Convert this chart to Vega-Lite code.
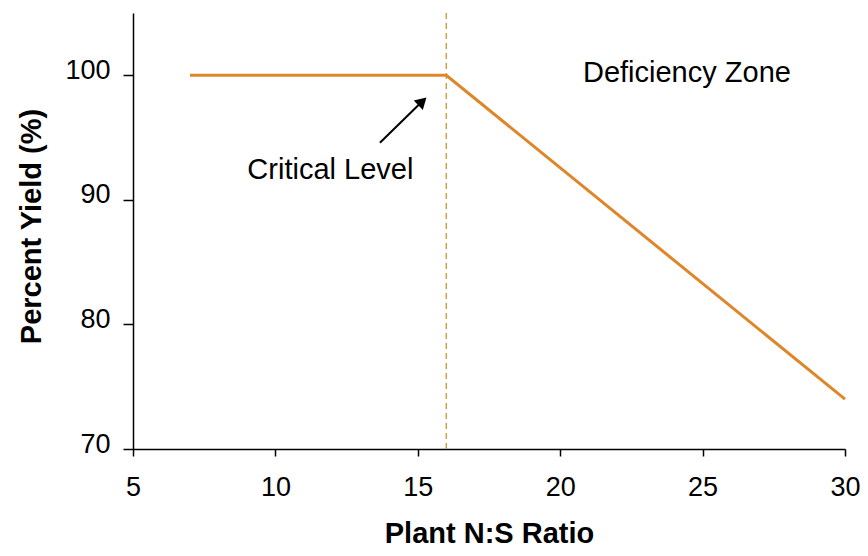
{
  "$schema": "https://vega.github.io/schema/vega-lite/v6.json",
  "autosize": "none",
  "width": 712,
  "height": 436,
  "padding": {"left": 133, "top": 13, "right": 23, "bottom": 107},
  "background": "white",
  "config": {
    "view": {"stroke": null},
    "font": "Liberation Sans",
    "axis": {
      "grid": false,
      "domainColor": "#000000",
      "domainWidth": 1.5,
      "tickColor": "#000000",
      "tickWidth": 1.5,
      "labelColor": "#000000",
      "labelFont": "Liberation Sans",
      "labelFontSize": 27,
      "titleColor": "#000000",
      "titleFont": "Liberation Sans",
      "titleFontSize": 29,
      "titleFontWeight": "bold"
    }
  },
  "datasets": {
    "curve": [
      {"ratio": 7, "yield": 100},
      {"ratio": 16, "yield": 100},
      {"ratio": 30, "yield": 74}
    ],
    "critical": [{"ratio": 16}],
    "arrow": [{"x": 13.67, "y": 94.58, "x2": 15.16, "y2": 97.91}],
    "labels": [
      {"x": 11.93, "y": 92.4, "text": "Critical Level"},
      {"x": 24.45, "y": 100.2, "text": "Deficiency Zone"}
    ]
  },
  "layer": [
    {
      "data": {"name": "critical"},
      "mark": {"type": "rule", "color": "#D4A04A", "strokeWidth": 1.5, "strokeDash": [6, 4]},
      "encoding": {
        "x": {
          "field": "ratio", "type": "quantitative",
          "scale": {"domain": [5, 30], "nice": false, "zero": false},
          "axis": {
            "values": [5, 10, 15, 20, 25, 30],
            "tickSize": 7,
            "labelPadding": 18,
            "labelFlush": false,
            "title": "Plant N:S Ratio",
            "titleBaseline": "alphabetic",
            "titleY": 93
          }
        }
      }
    },
    {
      "data": {"name": "curve"},
      "mark": {"type": "line", "color": "#E0862A", "strokeWidth": 3},
      "encoding": {
        "x": {"field": "ratio", "type": "quantitative"},
        "y": {
          "field": "yield", "type": "quantitative",
          "scale": {"domain": [70, 105], "nice": false, "zero": false},
          "axis": {
            "values": [70, 80, 90, 100],
            "tickSize": 10,
            "labelPadding": 13,
            "labelOffset": -5,
            "labelFlush": false,
            "title": "Percent Yield (%)",
            "titleAngle": -90,
            "titleBaseline": "alphabetic",
            "titleX": -93,
            "titleY": 213
          }
        }
      }
    },
    {
      "data": {"name": "arrow"},
      "mark": {"type": "rule", "color": "#000000", "strokeWidth": 2},
      "encoding": {
        "x": {"field": "x", "type": "quantitative"},
        "y": {"field": "y", "type": "quantitative"},
        "x2": {"field": "x2"},
        "y2": {"field": "y2"}
      }
    },
    {
      "data": {"name": "arrow"},
      "mark": {"type": "point", "shape": "triangle-up", "filled": true, "color": "#000000", "opacity": 1, "size": 170, "angle": 46},
      "encoding": {
        "x": {"field": "x2", "type": "quantitative"},
        "y": {"field": "y2", "type": "quantitative"}
      }
    },
    {
      "data": {"name": "labels"},
      "mark": {"type": "text", "font": "Liberation Sans", "fontSize": 29, "color": "#000000", "align": "center", "baseline": "middle"},
      "encoding": {
        "x": {"field": "x", "type": "quantitative"},
        "y": {"field": "y", "type": "quantitative"},
        "text": {"field": "text"}
      }
    }
  ]
}
